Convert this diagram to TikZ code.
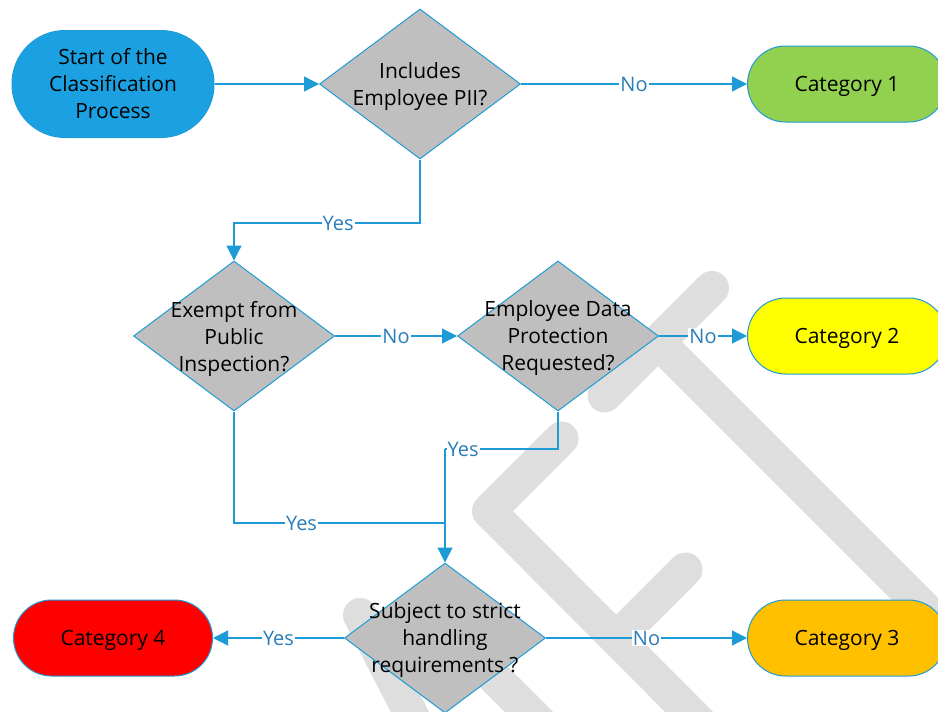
\documentclass[tikz,border=0pt]{standalone}
\usepackage{fontspec}
\setmainfont{Open Sans}
\usetikzlibrary{shapes.geometric,arrows.meta}
\definecolor{lineblue}{HTML}{1E9BD7}
\definecolor{labelblue}{HTML}{2A7DB8}
\definecolor{startblue}{HTML}{1BA1E2}
\definecolor{diagray}{HTML}{BFBFBF}
\definecolor{wmgray}{HTML}{DEDEDE}
\definecolor{catgreen}{HTML}{92D050}
\definecolor{catyellow}{HTML}{FFFF00}
\definecolor{catorange}{HTML}{FFC000}
\definecolor{catred}{HTML}{FF0000}
\begin{document}
\begin{tikzpicture}[x=1pt,y=-1pt,
  pillbox/.style={draw=lineblue, line width=1pt, inner sep=0pt, align=center,
    font=\fontsize{21}{27}\selectfont},
  startbox/.style={pillbox, fill=startblue, minimum width=202pt, minimum height=107pt, rounded corners=53pt},
  catbox/.style={pillbox, minimum width=199pt, minimum height=76pt, rounded corners=38pt,
    text height=16pt, text depth=1pt},
  decision/.style={diamond, draw=lineblue, fill=diagray, line width=1pt,
    minimum width=201pt, minimum height=150pt, inner sep=0pt},
  dtext/.style={align=center, inner sep=0pt, yshift=-2.5pt, font=\fontsize{21}{27}\selectfont},
  lab/.style={fill=white, text=labelblue, inner sep=1pt, font=\fontsize{20}{24}\selectfont},
  conn/.style={draw=lineblue, line width=1.3pt},
  arrow/.style={conn, -{Triangle[length=15pt,width=15pt]}},
  wm/.style={draw=wmgray, line width=34pt, line cap=round, line join=round}
]
\useasboundingbox (0,0) rectangle (938,712);
\fill[white] (0,0) rectangle (938,712);

% watermark
\draw[wm] (712,288) -- (604.5,395.5);
\draw[wm] (658,342) -- (1000,684);
\draw[wm] (561.5,438.5) -- (489,511) -- (730,753);
\draw[wm] (685.5,569.5) -- (616.5,638.5);
\draw[wm] (360,615) -- (414,720);
\draw[wm] (440,623) -- (560,743);

% nodes
\node[startbox] (start) at (113,84) {Start of the\\Classification\\Process};
\node[decision] (d1) at (420,84) {};
\node[dtext] (d1t) at (d1) {Includes\\Employee PII?};
\node[catbox, fill=catgreen] (cat1) at (847,84) {Category 1};

\node[decision] (d2) at (234,336) {};
\node[dtext] (d2t) at (d2) {Exempt from\\Public\\Inspection?};
\node[decision] (d3) at (558,336) {};
\node[dtext] (d3t) at (d3) {Employee Data\\Protection\\Requested?};
\node[catbox, fill=catyellow] (cat2) at (847,336) {Category 2};

\node[decision] (d4) at (445,638) {};
\node[dtext] (d4t) at (d4) {Subject to strict\\handling\\requirements ?};
\node[catbox, fill=catred] (cat4) at (113,638) {Category 4};
\node[catbox, fill=catorange] (cat3) at (847,638) {Category 3};

% bends
\coordinate (k1) at (420,223);
\coordinate (k2) at (234,223);
\coordinate (k3) at (558,449);
\coordinate (k4) at (445,449);
\coordinate (k5) at (234,523);
\coordinate (k6) at (445,523);

% connectors
\draw[arrow] (start.east) -- (d1.west);
\draw[arrow] (d1.east) -- node[lab]{No} (cat1.west);
\draw[arrow] (d1.south) -- (k1) -- node[lab,pos=0.44]{Yes} (k2) -- (d2.north);
\draw[arrow] (d2.east) -- node[lab]{No} (d3.west);
\draw[arrow] (d3.east) -- node[lab]{No} (cat2.west);
\draw[conn] (d3.south) -- (k3) -- node[lab,pos=0.84]{Yes} (k4);
\draw[conn] (d2.south) -- (k5) -- node[lab,pos=0.32]{Yes} (k6);
\draw[arrow] (k4) -- (d4.north);
\draw[arrow] (d4.west) -- node[lab]{Yes} (cat4.east);
\draw[arrow] (d4.east) -- node[lab]{No} (cat3.west);
\end{tikzpicture}
\end{document}
